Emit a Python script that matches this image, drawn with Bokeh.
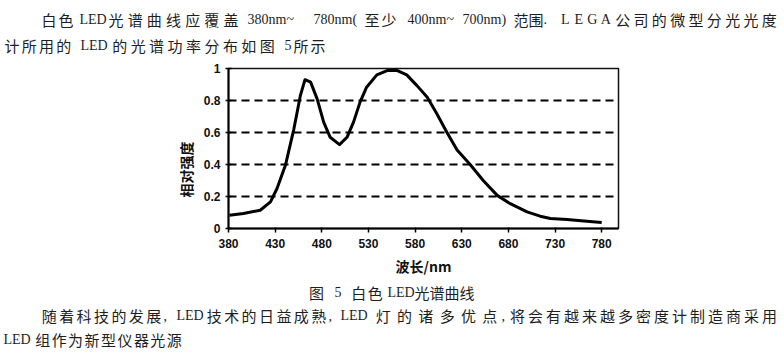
import math
from bokeh.plotting import figure
from bokeh.layouts import column, row
from bokeh.models import FixedTicker, CustomJSTickFormatter, Range1d
from bokeh.core.properties import value
from bokeh.embed import file_html
from bokeh.resources import INLINE

# ---------------- chart data ----------------
wavelength_nm = [381, 396, 414, 425, 432, 441, 450, 457, 462, 468, 475, 482,
                 489, 499, 507, 514, 521, 528, 539, 550, 561, 571, 582, 593,
                 603, 614, 625, 639, 653, 668, 682, 700, 714, 725, 743, 761, 780]
relative_intensity = [0.083, 0.094, 0.114, 0.166, 0.25, 0.395, 0.62, 0.83,
                      0.93, 0.915, 0.81, 0.665, 0.57, 0.524, 0.57, 0.665, 0.79,
                      0.883, 0.96, 0.987, 0.987, 0.96, 0.893, 0.82, 0.72, 0.602,
                      0.49, 0.40, 0.30, 0.207, 0.155, 0.104, 0.077, 0.062,
                      0.056, 0.047, 0.037]
x_ticks = [380, 430, 480, 530, 580, 630, 680, 730, 780]
y_ticks = [0, 0.2, 0.4, 0.6, 0.8, 1]
x_title = "波长/nm"
y_title = "相对强度"

# ---------------- surrounding document text ----------------
# runs: (text, x_start, x_end, kind) ; kind "c" = spaced CJK run,
# "l" = Latin run starting at x_start, "ls" = letter-spaced Latin run
line1 = [("白色", 40, 74, "c"), ("LED", 79, None, "l"),
         ("光谱曲线应覆盖", 106, 240, "c"), ("380nm~", 247, None, "l"),
         ("780nm(", 313, None, "l"), ("至少", 363, 397, "c"),
         ("400nm~", 407, None, "l"), ("700nm)", 462, None, "l"),
         ("范围", 513, 543, "c"), (".", 543, None, "l"),
         ("LEGA", 558, 612, "ls"), ("公司的微型分光光度", 613, 778, "c")]
line2 = [("计所用的", 3, 72, "c"), ("LED", 80, None, "l"),
         ("的光谱功率分布如图", 110, 276, "c"), ("5", 284, None, "l"),
         ("所示", 292, 326, "c")]
caption = [("图", 308, 324, "c"), ("5", 334, None, "l"), ("白色", 350, 383, "c"),
           ("LED", 387, None, "l"), ("光谱曲线", 414, 474, "c")]
line3 = [("随着科技的发展", 40, 162, "c"), (",", 163, None, "l"),
         ("LED", 176, None, "l"), ("技术的日益成熟", 205, 327, "c"),
         (",", 328, None, "l"), ("LED", 340, None, "l"),
         ("灯的诸多优点", 372, 500, "c"), (",", 501, None, "l"),
         ("将会有越来越多密度计制造商采用", 508, 778, "c")]
line4 = [("LED", 3, None, "l"), ("组作为新型仪器光源", 34, 182, "c")]

W, H = 784, 357
TOP_H = 60          # canvas rows 0..60 : text above the chart
MID_END = 283       # canvas rows 60..283 : chart ; 283..357 : text below
LEFT_W = 196        # canvas columns 0..196 beside the chart: y title
FL, FR, FT, FB = 228, 618, 68, 228   # chart frame edges on the canvas

CJK_FONT = "Noto Sans CJK SC"
LAT_FONT = "Liberation Serif"
TXT_COL = "#1e1e1e"


def blank_panel(x0, x1, y0, y1):
    f = figure(width=x1 - x0, height=y1 - y0, x_range=Range1d(x0, x1),
               y_range=Range1d(y1, y0), output_backend="svg",
               toolbar_location=None, min_border=0, frame_align=False)
    f.axis.visible = False
    f.grid.visible = False
    f.outline_line_color = None
    f.background_fill_color = "white"
    f.border_fill_color = "white"
    return f


def text_panel(y0, y1, lines):
    f = blank_panel(0, W, y0, y1)
    c = dict(x=[], y=[], t=[])
    la = dict(x=[], y=[], t=[])   # left aligned latin
    lc = dict(x=[], y=[], t=[])   # centred latin letters
    for runs, yy in lines:
        for text, x0, x1, kind in runs:
            if kind == "l":
                la["x"].append(x0); la["y"].append(yy); la["t"].append(text)
            else:
                tgt = c if kind == "c" else lc
                pitch = (x1 - x0) / len(text)
                for i, ch in enumerate(text):
                    tgt["x"].append(x0 + (i + 0.5) * pitch)
                    tgt["y"].append(yy)
                    tgt["t"].append(ch)
    f.text(x=c["x"], y=c["y"], text=c["t"], text_align="center",
           text_baseline="middle", text_font=value(CJK_FONT),
           text_font_size="15px", text_color=TXT_COL)
    f.text(x=la["x"], y=la["y"], text=la["t"], text_align="left",
           text_baseline="middle", text_font=value(LAT_FONT),
           text_font_size="14px", text_color=TXT_COL)
    if lc["x"]:
        f.text(x=lc["x"], y=lc["y"], text=lc["t"], text_align="center",
               text_baseline="middle", text_font=value(LAT_FONT),
               text_font_size="14px", text_color=TXT_COL)
    return f


top = text_panel(0, TOP_H, [(line1, 18.5), (line2, 44.5)])
bottom = text_panel(MID_END, H, [(caption, 291.5), (line3, 315), (line4, 339)])

# y-axis title panel left of the chart
left = blank_panel(0, LEFT_W, TOP_H, MID_END)
left.text(x=[185], y=[169], text=[y_title], angle=math.pi / 2,
          text_align="center", text_baseline="middle",
          text_font=value(CJK_FONT), text_font_style="bold",
          text_font_size="14px", text_color="#111111")

p = figure(width=W - LEFT_W, height=MID_END - TOP_H, x_range=Range1d(380, 798),
           y_range=Range1d(0, 1), output_backend="svg", toolbar_location=None,
           min_border_left=FL - LEFT_W, min_border_right=W - FR,
           min_border_top=FT - TOP_H, min_border_bottom=MID_END - FB,
           frame_align=False)
p.background_fill_color = "white"
p.border_fill_color = "white"
p.outline_line_color = "#111111"
p.outline_line_width = 1.5

p.line(wavelength_nm, relative_intensity, line_color="black", line_width=3,
       line_join="round")

for ax in (p.xaxis[0], p.yaxis[0]):
    ax.axis_line_color = "black"
    ax.axis_line_width = 2
    ax.major_tick_line_color = "black"
    ax.major_tick_line_width = 1.5
    ax.minor_tick_line_color = None
    ax.major_label_text_font = "Liberation Sans"
    ax.major_label_text_font_style = "bold"
    ax.major_label_text_font_size = "12px"
    ax.major_label_text_color = "#111111"
    ax.axis_label_text_font = CJK_FONT
    ax.axis_label_text_font_style = "bold"
    ax.axis_label_text_font_size = "14px"
    ax.axis_label_text_color = "#111111"

p.xaxis.ticker = FixedTicker(ticks=x_ticks)
p.xaxis.major_tick_out = 4
p.xaxis.major_tick_in = 1
p.xaxis.major_label_standoff = 6
p.xaxis.axis_label = x_title
p.xaxis.axis_label_standoff = 5

p.yaxis.ticker = FixedTicker(ticks=y_ticks)
p.yaxis.formatter = CustomJSTickFormatter(code="return String(tick)")
p.yaxis.major_tick_out = 3
p.yaxis.major_tick_in = 3
p.yaxis.major_label_standoff = 5

p.xgrid.grid_line_color = None
p.ygrid.ticker = FixedTicker(ticks=y_ticks)
p.ygrid.grid_line_color = "black"
p.ygrid.grid_line_width = 2
p.ygrid.grid_line_dash = "8 5"

layout = column(top, row(left, p, spacing=0), bottom, spacing=0)
open("out.html", "w").write(file_html(layout, INLINE))
